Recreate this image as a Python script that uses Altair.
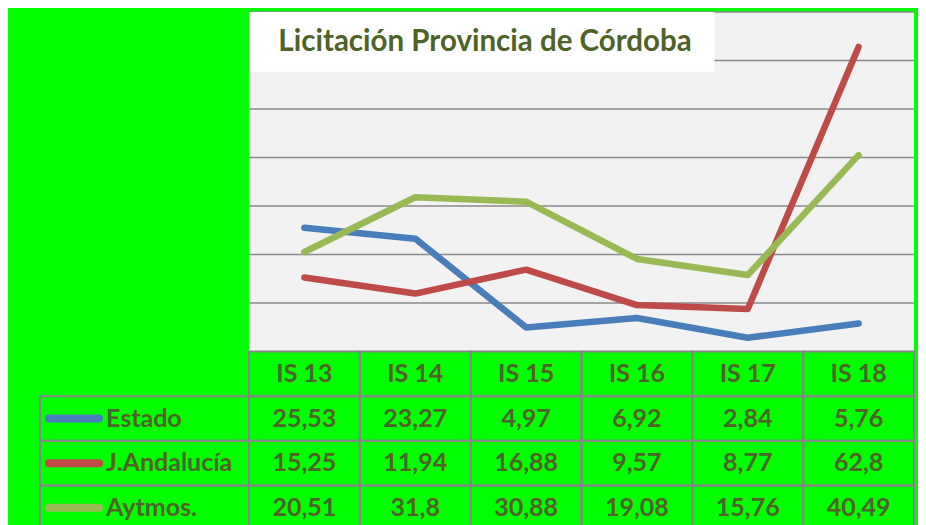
import altair as alt
import pandas as pd

# ---- data ----
categories = ["IS 13", "IS 14", "IS 15", "IS 16", "IS 17", "IS 18"]
series_names = ["Estado", "J.Andalucía", "Aytmos."]
estado = [25.53, 23.27, 4.97, 6.92, 2.84, 5.76]
andalucia = [15.25, 11.94, 16.88, 9.57, 8.77, 62.8]
aytmos = [20.51, 31.8, 30.88, 19.08, 15.76, 40.49]
series_colors = ["#4A7EBB", "#BE4B48", "#98B954"]
grid_values = [10, 20, 30, 40, 50, 60, 70]
title_text = "Licitación Provincia de Córdoba"

series_values = [estado, andalucia, aytmos]

# ---- layout constants ----
W = 665          # plot width (px)
H = 513          # drawing height (px)
PLOT_H = 339.5   # line-plot height (px)
ROW_H = 44.67    # table row height (px)
LEG_W = 209      # legend column width (px)
TEXT = "#4F6228"
BORDER = "#868686"
FONT = "Lato"
FS = 25

xs = alt.Scale(domain=[-1, 0, 6], range=[-LEG_W, 0, W], zero=False, nice=False)
ys = alt.Scale(domain=[-4, 0, 70], range=[PLOT_H + 4 * ROW_H, PLOT_H, 0], zero=False, nice=False)
cs = alt.Scale(domain=series_names, range=series_colors)

# ---- tables built from the arrays ----
line_rows = []
for k, (name, vals) in enumerate(zip(series_names, series_values)):
    for i, (cat, v) in enumerate(zip(categories, vals)):
        line_rows.append({"serie": name, "cat": cat, "pos": i + 0.5, "value": v,
                          "row_c": -(k + 1.5), "label": str(v).replace(".", ",")})
lines_df = pd.DataFrame(line_rows)

cell_rows = []
for r in range(4):
    for c in range(-1, 6):
        if r == 0 and c == -1:
            continue
        cell_rows.append({"c0": c, "c1": c + 1, "r0": -r, "r1": -(r + 1)})
cells_df = pd.DataFrame(cell_rows)

header_df = pd.DataFrame({"cat": categories, "pos": [i + 0.5 for i in range(len(categories))],
                          "row_c": [-0.5] * len(categories)})
legend_df = pd.DataFrame({"serie": series_names, "lx": [-1] * len(series_names),
                          "row_c": [-(k + 1.5) for k in range(len(series_names))]})
grid_df = pd.DataFrame({"g": grid_values})
one = pd.DataFrame({"a": [0]})

# ---- layers ----
plot_bg = alt.Chart(one).mark_rect(color="#F2F2F2").encode(
    x=alt.XDatum(0, type="quantitative", scale=xs, axis=None), x2=alt.X2Datum(6),
    y=alt.YDatum(0, type="quantitative", scale=ys, axis=None), y2=alt.Y2Datum(70))

grid = alt.Chart(grid_df).mark_rule(color="#8A8A8A", strokeWidth=1.5).encode(
    x=alt.XDatum(0, type="quantitative", scale=xs, axis=None), x2=alt.X2Datum(6),
    y=alt.Y("g:Q", scale=ys, axis=None))

title_box = alt.Chart(one).mark_rect(color="white").encode(
    x=alt.XDatum(0, type="quantitative", scale=xs, axis=None), x2=alt.X2Datum(4.2),
    y=alt.YDatum(70, type="quantitative", scale=ys, axis=None), y2=alt.Y2Datum(57.67))

title = alt.Chart(one).mark_text(text=title_text, font=FONT, fontWeight="bold", fontSize=29.5,
                                 color=TEXT, align="center", baseline="middle").encode(
    x=alt.XDatum(2.13, type="quantitative", scale=xs, axis=None),
    y=alt.YDatum(63.9, type="quantitative", scale=ys, axis=None))

line_layers = []
for name, col in zip(series_names, series_colors):
    line_layers.append(
        alt.Chart(lines_df[lines_df["serie"] == name]).mark_line(
            color=col, strokeWidth=6.5, strokeCap="round", strokeJoin="round").encode(
            x=alt.X("pos:Q", scale=xs, axis=None),
            y=alt.Y("value:Q", scale=ys, axis=None)))

cells = alt.Chart(cells_df).mark_rect(fill="transparent", stroke=BORDER, strokeWidth=2).encode(
    x=alt.X("c0:Q", scale=xs, axis=None), x2="c1:Q",
    y=alt.Y("r0:Q", scale=ys, axis=None), y2="r1:Q")

header = alt.Chart(header_df).mark_text(font=FONT, fontWeight="bold", fontSize=FS, color=TEXT,
                                        align="center", baseline="middle").encode(
    x=alt.X("pos:Q", scale=xs, axis=None), y=alt.Y("row_c:Q", scale=ys, axis=None), text="cat:N")

values_txt = alt.Chart(lines_df).mark_text(font=FONT, fontWeight="bold", fontSize=FS, color=TEXT,
                                           align="center", baseline="middle").encode(
    x=alt.X("pos:Q", scale=xs, axis=None), y=alt.Y("row_c:Q", scale=ys, axis=None), text="label:N")

legend_sym = alt.Chart(legend_df).mark_rule(strokeWidth=8, strokeCap="round", xOffset=9, x2Offset=59).encode(
    x=alt.X("lx:Q", scale=xs, axis=None), x2="lx:Q",
    y=alt.Y("row_c:Q", scale=ys, axis=None),
    color=alt.Color("serie:N", scale=cs, legend=None))

legend_txt = alt.Chart(legend_df).mark_text(font=FONT, fontWeight="bold", fontSize=FS, color=TEXT,
                                            align="left", baseline="middle", dx=66).encode(
    x=alt.X("lx:Q", scale=xs, axis=None), y=alt.Y("row_c:Q", scale=ys, axis=None), text="serie:N")

chart = alt.layer(plot_bg, grid, title_box, title, *line_layers, cells, header, values_txt,
                  legend_sym, legend_txt).properties(
    width=W, height=H,
    padding={"left": 241, "top": 4, "right": 4, "bottom": 0},
    autosize=alt.AutoSizeParams(type="none"),
    background="#00FF00",
).configure_view(strokeWidth=0)

chart.save("out.html", embed_options={"renderer": "svg", "actions": False})
